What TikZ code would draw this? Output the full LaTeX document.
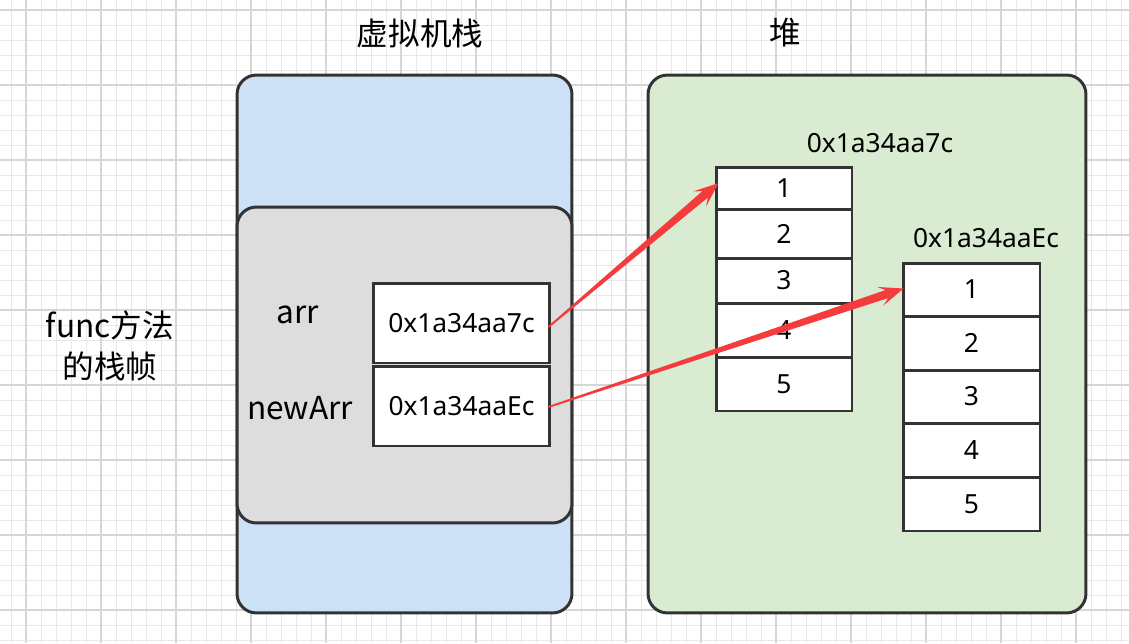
\documentclass[tikz,border=0pt]{standalone}
\usepackage{fontspec}
\setmainfont{Noto Sans}
\newfontfamily\cjk{Noto Sans CJK SC}
\usetikzlibrary{calc}

\definecolor{gridminor}{HTML}{E8E8E8}
\definecolor{gridmajor}{HTML}{D6D6D6}
\definecolor{linegray}{HTML}{333333}
\definecolor{stackblue}{HTML}{CCE0F6}
\definecolor{framegray}{HTML}{DDDDDD}
\definecolor{heapgreen}{HTML}{D9EBD1}
\definecolor{ptrred}{HTML}{F53B3B}

\tikzset{
  region/.style={draw=linegray, line width=1.7pt, rounded corners=11pt, inner sep=0pt},
  cell/.style={draw=linegray, line width=1.7pt, fill=white, inner sep=0pt,
    font=\fontsize{15}{18}\selectfont},
  bigtext/.style={font=\cjk\fontsize{18}{23}\selectfont, align=center},
  valtext/.style={font=\fontsize{15}{18}\selectfont}
}

% tapered pointer arrow, from #1 to #2
\newcommand{\pointer}[2]{%
  \path (#1) coordinate (ts) (#2) coordinate (tt);
  \path ($(tt)!14pt!(ts)$) coordinate (th);
  \path ($(tt)!10pt!(ts)$) coordinate (tb);
  \fill[ptrred] ($(ts)!0.5pt!90:(tt)$) -- ($(tb)!2.4pt!90:(tt)$) -- ($(th)!5.6pt!90:(tt)$)
    -- (tt) -- ($(th)!5.6pt!-90:(tt)$) -- ($(tb)!2.4pt!-90:(tt)$) -- ($(ts)!0.5pt!-90:(tt)$) -- cycle;
}

\begin{document}
\begin{tikzpicture}[x=0.02cm, y=-0.02cm]
\useasboundingbox (0,0) rectangle (1129,643);
\fill[white] (0,0) rectangle (1129,643);

% background grid
\foreach \x in {11,26,...,1129} \draw[gridminor, line width=0.5pt] (\x,0) -- (\x,643);
\foreach \y in {10,25,...,643} \draw[gridminor, line width=0.5pt] (0,\y) -- (1129,\y);
\foreach \x in {26,101,...,1129} \draw[gridmajor, line width=0.6pt] (\x,0) -- (\x,643);
\foreach \y in {10,85,...,643} \draw[gridmajor, line width=0.6pt] (0,\y) -- (1129,\y);

% titles
\node[bigtext] (stacktitle) at (420,33) {虚拟机栈};
\node[bigtext] (heaptitle) at (785,33) {堆};

% stack side
\node[region, fill=stackblue, minimum width=6.7cm, minimum height=10.76cm] (stack) at (404.5,344) {};
\node[region, fill=framegray, minimum width=6.7cm, minimum height=6.32cm] (frame) at (404.5,365) {};
\node[bigtext] (framelabel) at (110,346) {func方法\\的栈帧};

\node[bigtext] (arrlabel) at (298,315) {arr};
\node[bigtext] (newlabel) at (300,408) {newArr};
\node[cell, minimum width=3.54cm, minimum height=1.6cm] (arrval) at (461.5,323) {0x1a34aa7c};
\node[cell, minimum width=3.54cm, minimum height=1.6cm] (newval) at (461.5,406) {0x1a34aaEc};

% heap side
\node[region, fill=heapgreen, minimum width=8.76cm, minimum height=10.76cm] (heap) at (867,344) {};

\node[valtext] (aaddr) at (880,143) {0x1a34aa7c};
\node[cell, minimum width=2.72cm, minimum height=0.84cm] (a1) at (784,188) {1};
\node[cell, minimum width=2.72cm, minimum height=0.98cm] (a2) at (784,233.5) {2};
\node[cell, minimum width=2.72cm, minimum height=0.9cm] (a3) at (784,280.5) {3};
\node[cell, minimum width=2.72cm, minimum height=1.08cm] (a4) at (784,330) {4};
\node[cell, minimum width=2.72cm, minimum height=1.08cm] (a5) at (784,384) {5};

\node[valtext] (baddr) at (986,238) {0x1a34aaEc};
\node[cell, minimum width=2.74cm, minimum height=1.06cm] (b1) at (971.5,289.5) {1};
\node[cell, minimum width=2.74cm, minimum height=1.08cm] (b2) at (971.5,343) {2};
\node[cell, minimum width=2.74cm, minimum height=1.06cm] (b3) at (971.5,396.5) {3};
\node[cell, minimum width=2.74cm, minimum height=1.08cm] (b4) at (971.5,450) {4};
\node[cell, minimum width=2.74cm, minimum height=1.08cm] (b5) at (971.5,504) {5};

% pointers
\pointer{$(arrval.east)+(-3,4)$}{$(a1.west)+(4,-5)$}
\pointer{$(newval.east)+(-3,1)$}{$(b1.west)+(2,-1)$}
\end{tikzpicture}
\end{document}
